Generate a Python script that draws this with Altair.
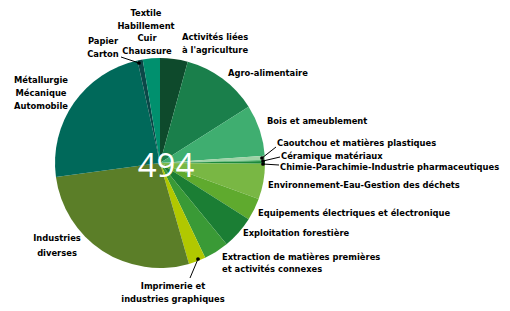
import altair as alt
import pandas as pd

# ---- data ----
sectors = [
    "Activités liées à l'agriculture",
    "Agro-alimentaire",
    "Bois et ameublement",
    "Caoutchou et matières plastiques",
    "Céramique matériaux",
    "Chimie-Parachimie-Industrie pharmaceutiques",
    "Environnement-Eau-Gestion des déchets",
    "Equipements électriques et électronique",
    "Exploitation forestière",
    "Extraction de matières premières et activités connexes",
    "Imprimerie et industries graphiques",
    "Industries diverses",
    "Métallurgie Mécanique Automobile",
    "Papier Carton",
    "Textile Habillement Cuir Chaussure",
]
counts = [21, 58, 39, 3, 1, 2, 27, 17, 25, 19, 13, 135, 117, 4, 13]
total_label = "494"

colors = [
    "#0e4a2c", "#1a7f4b", "#3fae70", "#9fd3a6", "#62bd7a", "#1b8a3c",
    "#79b744", "#5faa2e", "#1b7e34", "#3a9a36", "#b1c800", "#5b7e28",
    "#00695a", "#0b4848", "#00906e",
]

df = pd.DataFrame({"sector": sectors, "count": counts, "i": range(len(sectors))})

# ---- layout (page coords minus 8px margin) ----
OX, OY = 8, 8
CX, CY, R = 160 - OX, 163 - OY, 105

left_labels = [
    ("Activités liées", 182, 37), ("à l'agriculture", 182, 50),
    ("Agro-alimentaire", 228, 73),
    ("Bois et ameublement", 267, 121),
    ("Caoutchou et matières plastiques", 277, 143),
    ("Céramique matériaux", 281, 156),
    ("Chimie-Parachimie-Industrie pharmaceutiques", 280, 167),
    ("Environnement-Eau-Gestion des déchets", 268, 185),
    ("Equipements électriques et électronique", 258, 213),
    ("Exploitation forestière", 243, 233),
    ("Extraction de matières premières", 222, 257),
    ("et activités connexes", 222, 269),
]
center_labels = [
    ("Textile", 146, 13), ("Habillement", 146, 25.5), ("Cuir", 147, 38), ("Chaussure", 147, 50.5),
    ("Papier", 103, 41), ("Carton", 103, 54),
    ("Métallurgie", 41, 80), ("Mécanique", 41, 93), ("Automobile", 41, 106),
    ("Industries", 57, 238), ("diverses", 57, 253),
    ("Imprimerie et", 173, 286), ("industries graphiques", 173, 299),
]
leaders = [  # (x1, y1, x2, y2) label end -> slice
    (121, 57, 139, 63),
    (276, 147, 262, 158),
    (280, 157, 263, 161),
    (279, 165, 263, 164),
    (190, 278, 198, 259),
]

def shift(rows):
    return pd.DataFrame([{"t": t, "x": x - OX, "y": y - OY} for t, x, y in rows])

lead_df = pd.DataFrame([{"x": a - OX, "y": b - OY, "x2": c - OX, "y2": d - OY} for a, b, c, d in leaders])

pie = alt.Chart(df).mark_arc(outerRadius=R, stroke=None).encode(
    theta=alt.Theta("count:Q", stack=True),
    color=alt.Color("sector:N", scale=alt.Scale(domain=sectors, range=colors), legend=None),
    order=alt.Order("i:Q"),
    x=alt.value(CX), y=alt.value(CY),
)

center = alt.Chart(pd.DataFrame({"t": [total_label]})).mark_text(
    font="Open Sans", fontSize=33, color="white", align="center", baseline="middle"
).encode(text="t:N", x=alt.value(166 - OX), y=alt.value(167 - OY))

font = "DejaVu Sans Condensed, Roboto Condensed, Liberation Sans Narrow, Roboto, sans-serif"
FS = 9.3
lt = alt.Chart(shift(left_labels)).mark_text(
    font=font, fontSize=FS, fontWeight="bold", align="left", baseline="middle", color="black"
).encode(x=alt.X("x:Q", scale=None), y=alt.Y("y:Q", scale=None), text="t:N")
ct = alt.Chart(shift(center_labels)).mark_text(
    font=font, fontSize=FS, fontWeight="bold", align="center", baseline="middle", color="black"
).encode(x=alt.X("x:Q", scale=None), y=alt.Y("y:Q", scale=None), text="t:N")

rules = alt.Chart(lead_df).mark_rule(color="black", strokeWidth=1).encode(
    x=alt.X("x:Q", scale=None), y=alt.Y("y:Q", scale=None), x2="x2:Q", y2="y2:Q")
dots = alt.Chart(lead_df).mark_circle(color="black", size=14, opacity=1).encode(
    x=alt.X("x2:Q", scale=None), y=alt.Y("y2:Q", scale=None))

chart = alt.layer(pie, center, rules, dots, lt, ct).properties(
    width=494, height=297, padding=0, autosize=alt.AutoSizeParams(type="none")
).configure_view(stroke=None)

chart.save("out.html", embed_options={"renderer": "svg", "actions": False})
